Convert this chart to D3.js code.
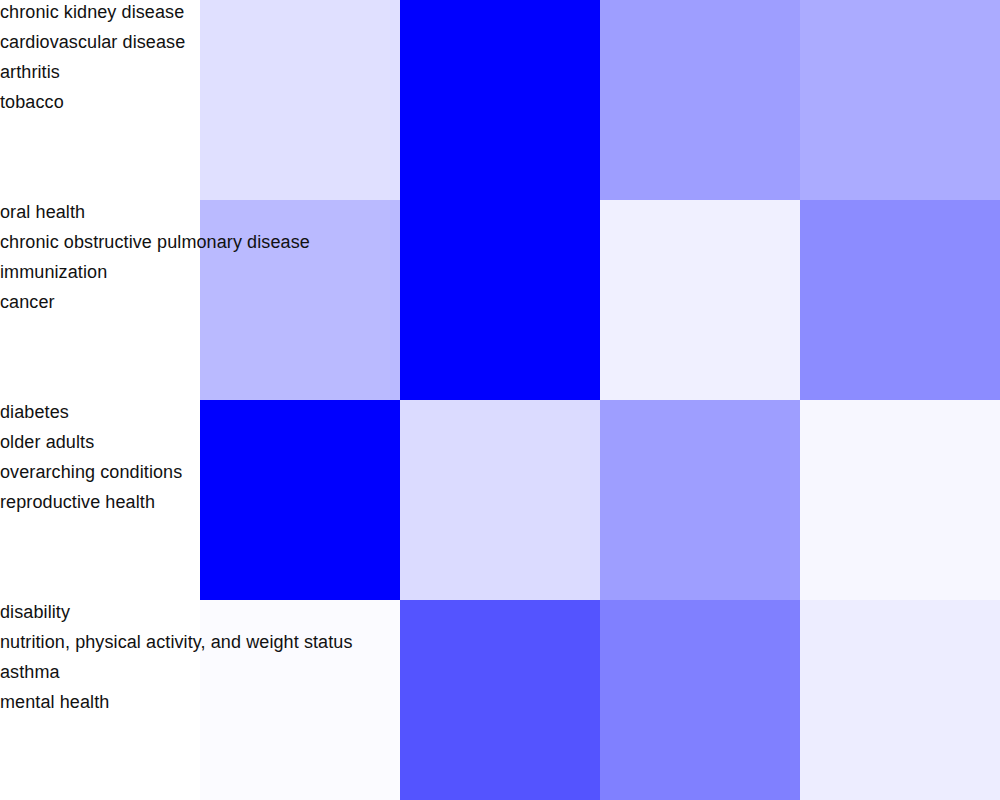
<!DOCTYPE html>
<html>
<head>
<meta charset="utf-8">
<script src="https://cdn.jsdelivr.net/npm/d3@7"></script>
<style>
  body { margin: 0; background: #fff; }
  text { font-family: "Liberation Sans", Arial, sans-serif; font-size: 18px; letter-spacing: 0.1px; fill: #111; }
</style>
</head>
<body>
<div id="chart"></div>
<script>
const svgWidth = 1000,
      svgHeight = 800,
      labelWidth = 200;

// topic groups, one per row
const groups = [
  ["chronic kidney disease", "cardiovascular disease", "arthritis", "tobacco"],
  ["oral health", "chronic obstructive pulmonary disease", "immunization", "cancer"],
  ["diabetes", "older adults", "overarching conditions", "reproductive health"],
  ["disability", "nutrition, physical activity, and weight status", "asthma", "mental health"]
];
const columns = ["c1", "c2", "c3", "c4"];

// cell intensity (0 = white, 1 = full blue), read row by row
const values = [
  [0.12, 1.00, 0.38, 0.33],
  [0.27, 1.00, 0.06, 0.45],
  [1.00, 0.14, 0.38, 0.03],
  [0.015, 0.67, 0.50, 0.07]
];

let cells = [];
values.forEach((row, i) => row.forEach((v, j) => cells.push({row: i, col: columns[j], value: v})));

let scaleX = d3.scaleBand().domain(columns).range([labelWidth, svgWidth]),
    scaleY = d3.scaleBand().domain(d3.range(groups.length)).range([0, svgHeight]),
    color = d3.scaleLinear().domain([0, 1]).range(["#ffffff", "#0000ff"]);

let svg = d3.select("#chart")
  .append("svg")
  .attr("width", svgWidth)
  .attr("height", svgHeight);

svg.append("g")
  .selectAll("rect")
  .data(cells)
  .enter()
  .append("rect")
  .attr("x", d => scaleX(d.col))
  .attr("y", d => scaleY(d.row))
  .attr("width", scaleX.bandwidth())
  .attr("height", scaleY.bandwidth())
  .attr("fill", d => color(d.value));

// labels sit on top of the cells
let labels = svg.append("g")
  .selectAll("g")
  .data(groups)
  .enter()
  .append("g")
  .attr("transform", (d, i) => "translate(0," + scaleY(i) + ")");

labels.selectAll("text")
  .data(d => d)
  .enter()
  .append("text")
  .attr("x", 0)
  .attr("y", (d, i) => 12 + i * 30)
  .attr("dy", "0.32em")
  .text(d => d);
</script>
</body>
</html>
